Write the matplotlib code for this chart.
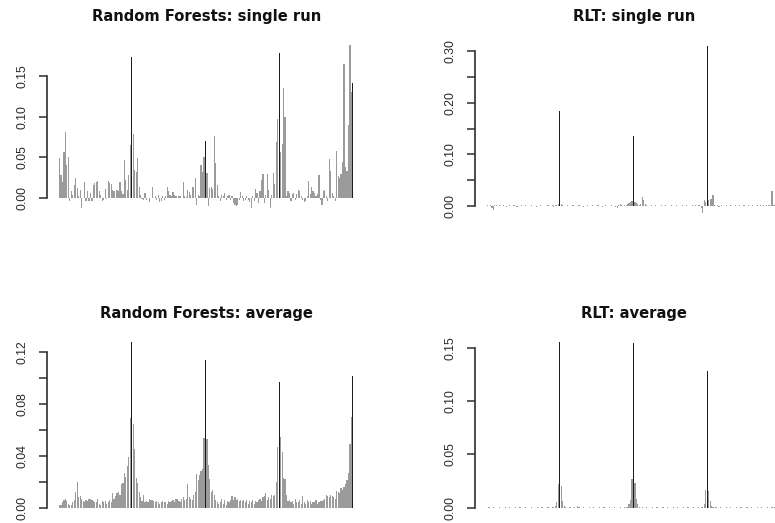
import numpy as np
import matplotlib
matplotlib.use("Agg")
import matplotlib.pyplot as plt
from matplotlib.ticker import FixedLocator, FixedFormatter

# variable index 1..200, the four strong variables are drawn black
var_idx = np.arange(1, 201)
strong_vars = [50, 100, 150, 200]

rf_single = [
    0.049, 0.028, 0.020, 0.057, 0.081, 0.040, 0.051, -0.004, 0.008, 0.004,
    0.016, 0.024, 0.012, 0.002, 0.010, -0.012, 0.000, 0.020, -0.004, 0.009,
    -0.004, 0.006, -0.004, 0.016, 0.018, 0.020, 0.021, 0.008, 0.004, -0.004,
    -0.002, 0.011, -0.001, 0.021, 0.018, 0.017, 0.010, 0.009, 0.000, 0.010,
    0.009, 0.020, 0.009, 0.005, 0.047, 0.022, 0.010, 0.028, 0.065, 0.173,
    0.079, 0.034, 0.032, 0.049, 0.013, 0.004, -0.001, -0.003, 0.006, -0.003,
    0.000, -0.005, 0.000, 0.013, 0.000, 0.002, -0.003, 0.004, -0.005, -0.004,
    0.003, -0.002, 0.003, 0.014, 0.008, 0.004, 0.002, 0.007, 0.004, 0.003,
    0.000, 0.002, 0.002, 0.000, 0.020, 0.002, 0.001, 0.010, 0.007, 0.004,
    0.014, 0.013, 0.024, -0.008, 0.004, 0.002, 0.040, 0.032, 0.050, 0.070,
    0.031, -0.010, 0.012, 0.013, 0.011, 0.076, 0.043, 0.016, 0.003, -0.004,
    0.004, 0.002, 0.006, -0.002, 0.003, 0.004, -0.003, 0.002, -0.006, -0.009,
    -0.010, -0.008, -0.003, 0.007, 0.002, -0.004, -0.002, 0.003, -0.002, -0.005,
    -0.012, 0.003, -0.004, 0.011, 0.006, -0.006, 0.009, 0.022, 0.029, -0.006,
    0.004, 0.030, 0.010, -0.012, 0.004, 0.031, 0.017, 0.069, 0.097, 0.178,
    0.056, 0.067, 0.135, 0.100, 0.003, 0.009, 0.006, -0.004, 0.005, 0.006,
    -0.002, 0.005, 0.010, 0.009, 0.002, -0.003, -0.005, -0.004, 0.003, 0.021,
    0.005, 0.014, 0.008, 0.006, 0.002, 0.005, 0.028, -0.003, -0.008, 0.008,
    0.010, 0.003, -0.004, 0.048, 0.033, 0.006, 0.003, -0.004, 0.058, 0.027,
    0.025, 0.029, 0.044, 0.165, 0.038, 0.033, 0.090, 0.188, 0.130, 0.141,
]

rlt_single = [
    0.001, 0.000, 0.001, -0.003, -0.008, 0.002, 0.001, 0.000, 0.001, 0.000,
    0.000, 0.001, 0.000, -0.001, 0.000, 0.001, 0.000, 0.000, 0.001, 0.000,
    -0.001, 0.000, 0.000, 0.001, 0.000, 0.000, 0.001, 0.000, 0.000, 0.000,
    0.001, 0.000, 0.000, -0.001, 0.000, 0.000, 0.001, 0.000, 0.000, 0.000,
    0.000, 0.001, 0.000, 0.000, 0.001, -0.001, 0.002, 0.002, 0.003, 0.184,
    0.003, 0.001, 0.000, 0.000, 0.001, 0.000, 0.000, 0.000, 0.001, 0.000,
    0.000, 0.000, 0.001, 0.000, 0.000, -0.001, 0.000, 0.000, 0.001, 0.000,
    0.000, 0.001, 0.000, 0.000, 0.000, 0.001, 0.000, 0.000, -0.001, 0.000,
    0.001, 0.000, 0.000, 0.000, 0.001, 0.000, 0.000, -0.002, -0.003, 0.001,
    0.003, 0.001, 0.000, 0.001, 0.002, 0.004, 0.006, 0.008, 0.009, 0.135,
    0.007, 0.005, 0.003, 0.001, 0.004, 0.018, 0.012, 0.004, 0.001, 0.000,
    0.000, 0.001, 0.000, 0.000, 0.001, 0.000, 0.000, 0.000, 0.001, 0.000,
    0.000, 0.001, 0.000, 0.000, 0.000, 0.001, 0.000, 0.000, 0.001, 0.000,
    0.000, 0.000, 0.001, 0.000, 0.000, 0.001, 0.000, 0.000, 0.000, 0.001,
    0.000, 0.001, 0.000, 0.002, 0.001, -0.003, -0.014, 0.012, 0.007, 0.310,
    0.012, 0.013, 0.014, 0.022, 0.002, 0.000, 0.001, -0.002, 0.000, 0.001,
    0.000, 0.000, 0.001, 0.000, 0.000, 0.001, 0.000, 0.000, 0.001, 0.000,
    0.000, 0.001, 0.000, 0.000, 0.001, 0.000, 0.000, 0.001, 0.000, 0.000,
    0.001, 0.000, 0.000, 0.001, 0.000, 0.002, 0.000, 0.001, 0.000, 0.001,
    0.000, 0.001, 0.000, 0.030, 0.001, 0.002, 0.004, 0.008, 0.012, 0.220,
]

rf_average = [
    0.002, 0.002, 0.004, 0.006, 0.007, 0.005, 0.003, 0.002, 0.002, 0.004,
    0.006, 0.012, 0.020, 0.008, 0.009, 0.007, 0.005, 0.004, 0.006, 0.005,
    0.007, 0.007, 0.006, 0.005, 0.004, 0.004, 0.007, 0.003, 0.002, 0.005,
    0.004, 0.005, 0.003, 0.004, 0.006, 0.004, 0.011, 0.007, 0.009, 0.011,
    0.012, 0.010, 0.018, 0.019, 0.027, 0.024, 0.032, 0.039, 0.069, 0.128,
    0.065, 0.045, 0.023, 0.019, 0.012, 0.008, 0.005, 0.010, 0.004, 0.005,
    0.004, 0.007, 0.006, 0.006, 0.005, 0.004, 0.005, 0.004, 0.003, 0.004,
    0.005, 0.004, 0.004, 0.003, 0.005, 0.004, 0.005, 0.006, 0.004, 0.007,
    0.007, 0.005, 0.004, 0.007, 0.008, 0.006, 0.007, 0.018, 0.008, 0.007,
    0.006, 0.010, 0.012, 0.026, 0.021, 0.025, 0.028, 0.030, 0.054, 0.114,
    0.053, 0.033, 0.022, 0.012, 0.014, 0.010, 0.006, 0.004, 0.003, 0.004,
    0.007, 0.003, 0.006, 0.002, 0.005, 0.004, 0.006, 0.009, 0.006, 0.008,
    0.006, 0.007, 0.005, 0.006, 0.005, 0.006, 0.004, 0.006, 0.003, 0.005,
    0.004, 0.006, 0.003, 0.005, 0.004, 0.006, 0.007, 0.005, 0.008, 0.009,
    0.011, 0.006, 0.008, 0.007, 0.010, 0.009, 0.010, 0.020, 0.047, 0.097,
    0.055, 0.043, 0.023, 0.022, 0.010, 0.005, 0.006, 0.004, 0.005, 0.003,
    0.007, 0.004, 0.004, 0.006, 0.003, 0.009, 0.004, 0.003, 0.006, 0.004,
    0.005, 0.003, 0.004, 0.004, 0.006, 0.003, 0.004, 0.005, 0.005, 0.006,
    0.007, 0.010, 0.009, 0.008, 0.010, 0.009, 0.008, 0.007, 0.013, 0.012,
    0.011, 0.015, 0.014, 0.016, 0.018, 0.021, 0.027, 0.049, 0.070, 0.102,
]

rlt_average = [
    0.000, 0.001, 0.000, 0.000, 0.001, 0.000, 0.000, 0.000, 0.001, 0.000,
    0.000, 0.000, 0.001, 0.000, 0.000, 0.001, 0.000, 0.000, 0.000, 0.001,
    0.000, 0.000, 0.001, 0.000, 0.000, 0.000, 0.001, 0.000, 0.000, 0.000,
    0.001, 0.000, 0.000, 0.000, 0.001, 0.000, 0.000, 0.001, 0.000, 0.000,
    0.000, 0.001, 0.000, 0.000, 0.001, 0.001, 0.002, 0.005, 0.022, 0.155,
    0.020, 0.006, 0.002, 0.001, 0.000, 0.000, 0.001, 0.000, 0.000, 0.001,
    0.000, 0.002, 0.001, 0.000, 0.000, 0.001, 0.000, 0.000, 0.000, 0.001,
    0.000, 0.000, 0.001, 0.000, 0.000, 0.000, 0.001, 0.000, 0.000, 0.001,
    0.000, 0.000, 0.000, 0.001, 0.000, 0.000, 0.001, 0.000, 0.000, 0.000,
    0.001, 0.000, 0.000, 0.001, 0.001, 0.001, 0.003, 0.007, 0.027, 0.154,
    0.023, 0.008, 0.003, 0.001, 0.000, 0.001, 0.000, 0.000, 0.001, 0.000,
    0.000, 0.000, 0.001, 0.000, 0.000, 0.001, 0.000, 0.000, 0.000, 0.001,
    0.000, 0.000, 0.001, 0.000, 0.000, 0.000, 0.001, 0.000, 0.000, 0.001,
    0.000, 0.000, 0.000, 0.001, 0.000, 0.000, 0.001, 0.000, 0.000, 0.000,
    0.001, 0.000, 0.000, 0.001, 0.000, 0.001, 0.001, 0.003, 0.017, 0.128,
    0.016, 0.006, 0.002, 0.001, 0.000, 0.001, 0.000, 0.000, 0.001, 0.000,
    0.000, 0.000, 0.001, 0.000, 0.000, 0.001, 0.000, 0.000, 0.000, 0.001,
    0.000, 0.000, 0.001, 0.000, 0.000, 0.000, 0.001, 0.000, 0.000, 0.001,
    0.000, 0.000, 0.000, 0.001, 0.000, 0.000, 0.001, 0.000, 0.000, 0.000,
    0.001, 0.000, 0.000, 0.001, 0.000, 0.001, 0.002, 0.004, 0.018, 0.150,
]

titles = ["Random Forests: single run", "RLT: single run",
          "Random Forests: average", "RLT: average"]

W, H = 775, 523
fig = plt.figure(figsize=(W / 100, H / 100), dpi=100)
plt.rcParams['font.family'] = ['Liberation Sans', 'DejaVu Sans']

bar_cols = ['#1c1c1c' if v in strong_vars else '#9b9b9b' for v in var_idx]
AX_W = 318.4


def panel(vals, left, top, bottom, ylim, ticks, labels, title, title_y):
    ax = fig.add_axes([left / W, 1 - bottom / H, AX_W / W, (bottom - top) / H])
    ax.bar(var_idx, vals, width=0.8, color=bar_cols, linewidth=0)
    ax.set_xlim(-7.5, 208.5)
    ax.set_ylim(*ylim)
    for s in ['top', 'right', 'bottom']:
        ax.spines[s].set_visible(False)
    ax.spines['left'].set_bounds(ticks[0], ticks[-1])
    ax.spines['left'].set_linewidth(1.2)
    ax.spines['left'].set_color('#2e2e2e')
    ax.set_xticks([])
    ax.yaxis.set_major_locator(FixedLocator(ticks))
    ax.yaxis.set_major_formatter(FixedFormatter(labels))
    ax.tick_params(axis='y', length=5.8, width=1.1, color='#2e2e2e',
                   pad=7.5, labelsize=8.8, labelcolor='#2a2a2a')
    for lb in ax.get_yticklabels():
        lb.set_rotation(90)
        lb.set_va('center')
    fig.text((left + AX_W / 2) / W, 1 - title_y / H, title,
             ha='center', va='baseline', fontsize=10.6,
             fontweight='bold', family='DejaVu Sans', color='#111111')
    return ax


panel(rf_single, 47, 40, 218, (-0.0246, 0.1943),
      [0.0, 0.05, 0.10, 0.15], ['0.00', '0.05', '0.10', '0.15'],
      titles[0], 21)
panel(rlt_single, 475, 40, 218, (-0.0232, 0.3213),
      [0.0, 0.05, 0.10, 0.15, 0.20, 0.25, 0.30],
      ['0.00', '', '0.10', '', '0.20', '', '0.30'],
      titles[1], 21)
panel(rf_average, 47, 340, 518, (-0.0080, 0.1296),
      [0.0, 0.02, 0.04, 0.06, 0.08, 0.10, 0.12],
      ['0.00', '', '0.04', '', '0.08', '', '0.12'],
      titles[2], 318)
panel(rlt_average, 475, 340, 518, (-0.0097, 0.1572),
      [0.0, 0.05, 0.10, 0.15], ['0.00', '0.05', '0.10', '0.15'],
      titles[3], 318)

fig.savefig('out.png', dpi=100)
